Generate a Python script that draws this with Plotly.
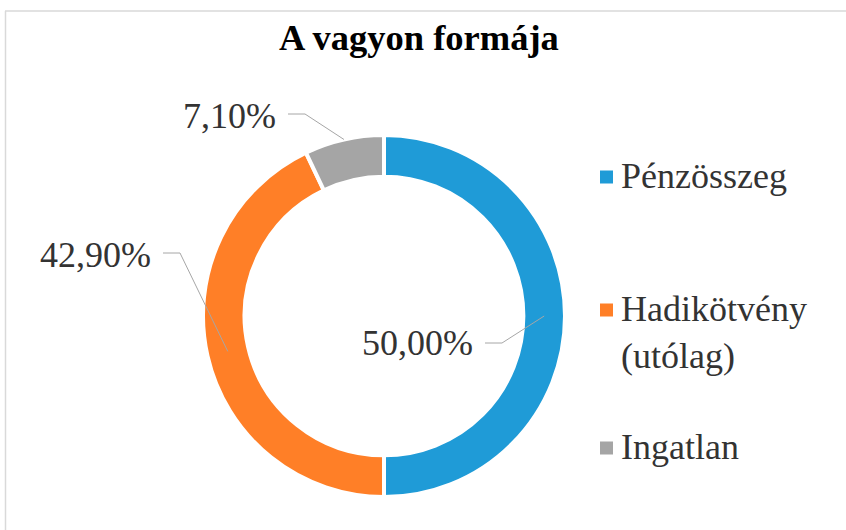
import math
import plotly.graph_objects as go

# ---- data ----
categories = ["Pénzösszeg", "Hadikötvény (utólag)", "Ingatlan"]
legend_labels = ["Pénzösszeg", "Hadikötvény<br>(utólag)", "Ingatlan"]
values = [50.00, 42.90, 7.10]
value_labels = ["50,00%", "42,90%", "7,10%"]
colors = ["#1F9BD7", "#FF7F27", "#A5A5A5"]

W, H = 846, 530
FONT = "Liberation Serif, Times New Roman, serif"
TXT = "#333333"
LINE = "#A6A6A6"
FS = 36


def px(x):
    return x / W


def py(y):
    return 1 - y / H


# donut geometry (pixels)
cx, cy, R = 384, 316, 181
hole = 0.77

fig = go.Figure(go.Pie(
    labels=categories,
    values=values,
    sort=False,
    direction="clockwise",
    rotation=0,
    hole=hole,
    textinfo="none",
    marker=dict(colors=colors, line=dict(color="white", width=4)),
    domain=dict(x=[px(cx - R), px(cx + R)], y=[py(cy + R), py(cy - R)]),
    showlegend=False,
    hoverinfo="label+percent",
))

# slice attach points computed from the data
total = sum(values)
cum = 0
attach = []
for i, v in enumerate(values):
    theta = 2 * math.pi * (cum + v / 2) / total
    cum += v
    r = (R * (1 + hole)) / 2 if i < 2 else R
    attach.append((cx + r * math.sin(theta), cy - r * math.cos(theta)))

# label layout: (elbow, line end / text right edge, text y)
label_layout = [
    ((502, 343), 485, 343),
    ((180, 253), 163, 255),
    ((305, 114), 288, 116),
]

shapes = []
annotations = []
for (ax_, ay_), ((ex, ey), tx, ty), lab in zip(attach, label_layout, value_labels):
    path = f"M {px(ax_)},{py(ay_)} L {px(ex)},{py(ey)} L {px(tx)},{py(ey)}"
    shapes.append(dict(type="path", xref="paper", yref="paper", path=path,
                       line=dict(color=LINE, width=1)))
    annotations.append(dict(x=px(tx - 10), y=py(ty), xref="paper", yref="paper",
                            text=lab, showarrow=False, xanchor="right", yanchor="middle",
                            font=dict(family=FONT, size=FS, color=TXT)))

# manual legend
legend_y = [177, 310, 448]
for lab, col, ly in zip(legend_labels, colors, legend_y):
    shapes.append(dict(type="rect", xref="paper", yref="paper",
                       x0=px(600), x1=px(613), y0=py(ly - 6.5), y1=py(ly + 6.5),
                       fillcolor=col, line=dict(width=0)))
    annotations.append(dict(x=px(619), y=py(ly - 23), xref="paper", yref="paper",
                            text=lab, showarrow=False, xanchor="left", yanchor="top",
                            align="left",
                            font=dict(family=FONT, size=FS, color=TXT)))

# chart border (left and top visible)
shapes.append(dict(type="line", xref="paper", yref="paper",
                   x0=px(5.5), x1=px(5.5), y0=py(11), y1=py(560),
                   line=dict(color="#D9D9D9", width=1.5)))
shapes.append(dict(type="line", xref="paper", yref="paper",
                   x0=px(5), x1=px(900), y0=py(11), y1=py(11),
                   line=dict(color="#D9D9D9", width=1.5)))

# title
annotations.append(dict(x=px(419), y=py(38), xref="paper", yref="paper",
                        text="<b>A vagyon formája</b>", showarrow=False,
                        xanchor="center", yanchor="middle",
                        font=dict(family=FONT, size=36.5, color="#000000")))

fig.update_layout(
    width=W, height=H,
    margin=dict(l=0, r=0, t=0, b=0),
    paper_bgcolor="white",
    plot_bgcolor="white",
    shapes=shapes,
    annotations=annotations,
)

fig.write_html("out.html", config={"displayModeBar": False},
               post_script="document.body.style.margin='0';")
